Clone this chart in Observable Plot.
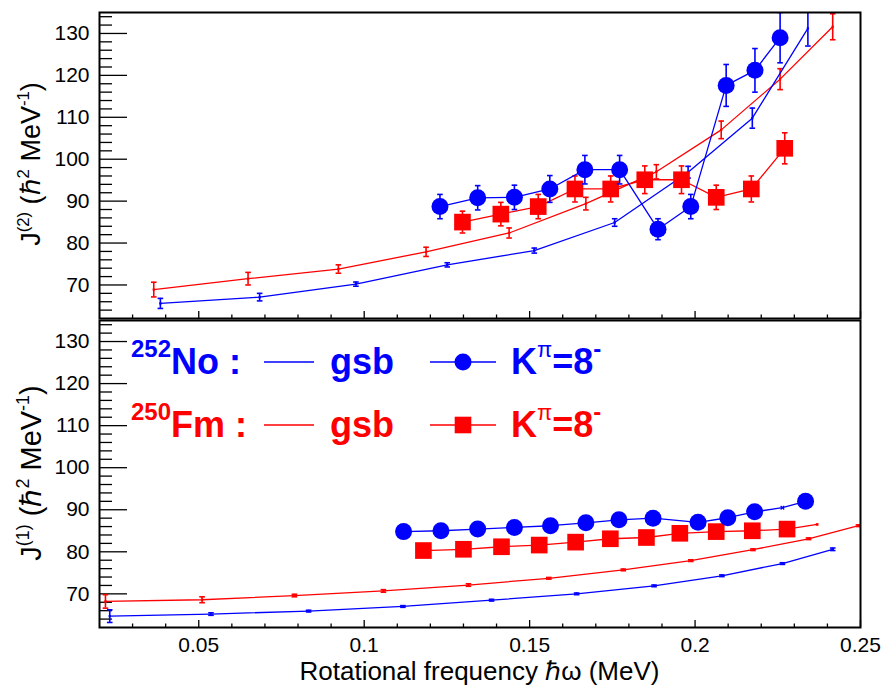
<!DOCTYPE html>
<html>
<head>
<meta charset="utf-8">
<script src="https://cdn.jsdelivr.net/npm/d3@7"></script>
<script src="https://cdn.jsdelivr.net/npm/@observablehq/plot@0.6"></script>
<style>
  html, body { margin: 0; padding: 0; background: #fff; }
  #wrap { position: relative; width: 886px; height: 690px; overflow: hidden; }
  #wrap > svg { position: absolute; left: 0; }
</style>
</head>
<body>
<div id="wrap"></div>
<script>
// ---------- data ----------
// top panel: J(2)
const noGsbJ2W   = [0.0384, 0.0684, 0.0975, 0.1251, 0.1514, 0.1757, 0.1979, 0.2173, 0.2341];
const noGsbJ2    = [65.6, 67.1, 70.2, 74.8, 78.2, 84.9, 96.9, 109.8, 131.2];
const noGsbJ2Err = [1.2, 0.9, 0.5, 0.5, 0.6, 0.9, 1.4, 2.4, 4.2];

const fmGsbJ2W   = [0.0364, 0.0649, 0.0922, 0.1187, 0.1438, 0.1670, 0.1883, 0.2079, 0.2257, 0.2416];
const fmGsbJ2    = [68.9, 71.5, 73.8, 77.9, 82.4, 89.4, 97.0, 107.0, 119.1, 131.6];
const fmGsbJ2Err = [1.75, 1.5, 1.0, 1.1, 1.2, 1.5, 1.7, 2.1, 2.5, 3.1];

const noK8J2W    = [0.1229, 0.1343, 0.1454, 0.1561, 0.1667, 0.1772, 0.1888, 0.1987, 0.2094, 0.2181, 0.2257];
const noK8J2     = [88.7, 90.8, 90.9, 92.9, 97.5, 97.5, 83.3, 88.7, 117.6, 121.2, 129.0];
const noK8J2Err  = [2.9, 2.9, 2.9, 3.2, 3.4, 3.4, 2.5, 2.9, 5.0, 5.2, 6.0];

const fmK8J2W    = [0.1297, 0.1413, 0.1526, 0.1637, 0.1745, 0.1848, 0.1959, 0.2064, 0.2170, 0.2271];
const fmK8J2     = [85.0, 86.9, 88.7, 92.9, 92.9, 95.1, 95.1, 90.9, 92.9, 102.6];
const fmK8J2Err  = [2.6, 2.8, 2.9, 3.1, 3.1, 3.3, 3.3, 2.9, 3.1, 3.7];

// bottom panel: J(1)
const noGsbJ1W   = [0.0231, 0.0537, 0.0832, 0.1117, 0.1385, 0.1642, 0.1876, 0.2081, 0.2264, 0.2416];
const noGsbJ1    = [64.7, 65.2, 65.9, 67.0, 68.5, 70.0, 71.9, 74.3, 77.2, 80.6];
const noGsbJ1Err = [1.5, 0.3, 0.2, 0.2, 0.2, 0.2, 0.2, 0.2, 0.2, 0.3];

const fmGsbJ1W   = [0.0218, 0.0510, 0.0789, 0.1058, 0.1315, 0.1558, 0.1783, 0.1987, 0.2175, 0.2343, 0.2494];
const fmGsbJ1    = [68.2, 68.6, 69.6, 70.7, 72.1, 73.7, 75.7, 77.9, 80.5, 83.1, 86.2];
const fmGsbJ1Err = [1.6, 0.7, 0.3, 0.3, 0.3, 0.2, 0.2, 0.2, 0.2, 0.2, 0.2];

const noK8J1W    = [0.1119, 0.1232, 0.1343, 0.1454, 0.1563, 0.1670, 0.1770, 0.1873, 0.2009, 0.2099, 0.2180, 0.2264, 0.2334];
const noK8J1     = [84.8, 85.0, 85.4, 85.8, 86.2, 86.9, 87.6, 88.0, 87.0, 88.1, 89.5, 90.5, 92.0];

const fmK8J1W    = [0.1179, 0.1300, 0.1415, 0.1529, 0.1639, 0.1744, 0.1853, 0.1954, 0.2064, 0.2173, 0.2278, 0.2369];
const fmK8J1     = [80.3, 80.6, 81.2, 81.6, 82.3, 83.1, 83.4, 84.4, 84.8, 85.0, 85.4, 86.5];

// axes
const xDomain   = [0.02, 0.25];
const yDomain   = [62, 135];
const xMajor    = [0.05, 0.1, 0.15, 0.2, 0.25];
const xMinor    = [0.03, 0.04, 0.06, 0.07, 0.08, 0.09, 0.11, 0.12, 0.13, 0.14, 0.16, 0.17, 0.18, 0.19, 0.21, 0.22, 0.23, 0.24];
const yMajor    = [70, 80, 90, 100, 110, 120, 130];
const yMinor    = [64, 66, 68, 72, 74, 76, 78, 82, 84, 86, 88, 92, 94, 96, 98, 102, 104, 106, 108, 112, 114, 116, 118, 122, 124, 126, 128, 132, 134];
const xTitle    = "Rotational frequency \u210F\u03C9 (MeV)";

// ---------- drawing ----------
const BLUE = "#0000ff", RED = "#ff0000";
const FONT = "'Liberation Sans', Arial, Helvetica, sans-serif";
const W = 886, ML = 99, MR = 26;
const frameW = W - ML - MR;

const rows = (w, v, e) => w.map((x, i) => ({w: x, v: v[i], e: e ? e[i] : 0, i}));
const capSym = {draw(ctx) { const h = 2.8; ctx.moveTo(-h, 0); ctx.lineTo(h, 0); }};

function errMarks(data, color) {
  return [
    Plot.ruleX(data, {x: "w", y1: d => d.v - d.e, y2: d => d.v + d.e, stroke: color, strokeWidth: 1.6, clip: true}),
    Plot.dot(data, {x: "w", y: d => d.v + d.e, symbol: capSym, stroke: color, fill: "none", strokeWidth: 1.6, clip: true}),
    Plot.dot(data, {x: "w", y: d => d.v - d.e, symbol: capSym, stroke: color, fill: "none", strokeWidth: 1.6, clip: true})
  ];
}
function gsbMarks(data, color) {
  return [
    Plot.line(data, {x: "w", y: "v", stroke: color, strokeWidth: 1.3, clip: true}),
    ...errMarks(data, color),
    Plot.dot(data, {x: "w", y: "v", symbol: "square", r: 1.3, fill: color, stroke: "none", clip: true})
  ];
}

function panel({height, marginTop, marginBottom, showX, series}) {
  const frameH = height - marginTop - marginBottom;
  return Plot.plot({
    width: W, height, marginLeft: ML, marginRight: MR, marginTop, marginBottom,
    x: {domain: xDomain, axis: null},
    y: {domain: yDomain, axis: null},
    style: {fontFamily: FONT, fontSize: "21px", color: "black", background: "transparent", overflow: "visible"},
    marks: [
      Plot.axisY(yMajor, {tickSize: 0, tickPadding: 10, fontSize: 21, label: null}),
      showX ? Plot.axisX(xMajor, {tickSize: 0, tickPadding: 10, fontSize: 21, label: null, tickFormat: d => String(d)}) : null,
      Plot.ruleY(yMajor, {insetRight: frameW - 28, stroke: "black", strokeWidth: 1.3}),
      Plot.ruleY(yMinor, {insetRight: frameW - 13, stroke: "black", strokeWidth: 1.3}),
      Plot.ruleX(xMajor, {insetTop: frameH - 7, stroke: "black", strokeWidth: 1.3}),
      Plot.ruleX(xMinor, {insetTop: frameH - 3.5, stroke: "black", strokeWidth: 1.3}),
      ...series,
      Plot.frame({stroke: "black", strokeWidth: 2})
    ]
  });
}

// top panel
const fmK8J2R = rows(fmK8J2W, fmK8J2, fmK8J2Err);
const noK8J2R = rows(noK8J2W, noK8J2, noK8J2Err);
const topPlot = panel({
  height: 320, marginTop: 12, marginBottom: 2, showX: false,
  series: [
    ...gsbMarks(rows(fmGsbJ2W, fmGsbJ2, fmGsbJ2Err), RED),
    ...gsbMarks(rows(noGsbJ2W, noGsbJ2, noGsbJ2Err), BLUE),
    Plot.line(fmK8J2R, {x: "w", y: "v", stroke: RED, strokeWidth: 1.3}),
    ...errMarks(fmK8J2R, RED),
    Plot.dot(fmK8J2R, {x: "w", y: "v", symbol: "square", r: 9.4, fill: RED, stroke: "none"}),
    Plot.line(noK8J2R, {x: "w", y: "v", stroke: BLUE, strokeWidth: 1.3}),
    ...errMarks(noK8J2R, BLUE),
    Plot.dot(noK8J2R, {x: "w", y: "v", r: 8.5, fill: BLUE, stroke: "none", clip: true})
  ]
});
topPlot.style.top = "0px";

// bottom panel
const fmK8J1R = rows(fmK8J1W, fmK8J1);
const noK8J1R = rows(noK8J1W, noK8J1);
const isLast = (d, arr) => d.i === arr.length - 1;
const bottomPlot = panel({
  height: 380, marginTop: 10, marginBottom: 63, showX: true,
  series: [
    ...gsbMarks(rows(fmGsbJ1W, fmGsbJ1, fmGsbJ1Err), RED),
    ...gsbMarks(rows(noGsbJ1W, noGsbJ1, noGsbJ1Err), BLUE),
    Plot.line(fmK8J1R, {x: "w", y: "v", stroke: RED, strokeWidth: 1.3}),
    Plot.dot(fmK8J1R.filter(d => !isLast(d, fmK8J1R)), {x: "w", y: "v", symbol: "square", r: 9.4, fill: RED, stroke: "none"}),
    Plot.dot(fmK8J1R.filter(d => isLast(d, fmK8J1R)), {x: "w", y: "v", symbol: "square", r: 1.5, fill: RED, stroke: "none"}),
    Plot.line(noK8J1R, {x: "w", y: "v", stroke: BLUE, strokeWidth: 1.3}),
    Plot.dot(noK8J1R.filter(d => d.i !== noK8J1R.length - 2), {x: "w", y: "v", r: 8.5, fill: BLUE, stroke: "none"}),
    Plot.dot(noK8J1R.filter(d => d.i === noK8J1R.length - 2), {x: "w", y: "v", symbol: "times", r: 1.8, stroke: BLUE, strokeWidth: 1.3})
  ]
});
bottomPlot.style.top = "310px";

const wrap = document.getElementById("wrap");
wrap.appendChild(topPlot);
wrap.appendChild(bottomPlot);

// ---------- overlay text: titles & legend ----------
const ov = d3.select(wrap).append("svg")
  .attr("width", W).attr("height", 690)
  .style("position", "absolute").style("top", "0px").style("left", "0px")
  .style("font-family", FONT);

// x title
ov.append("text").attr("x", ML + frameW / 2).attr("y", 680).attr("text-anchor", "middle")
  .attr("font-size", 26).text(xTitle);

// y titles
function yTitle(cx, cy, size, idx) {
  const t = ov.append("text").attr("transform", `translate(${cx},${cy}) rotate(-90)`)
    .attr("text-anchor", "middle").attr("font-size", size);
  const s = size * 0.62, up = size * 0.42;
  t.append("tspan").text("J");
  t.append("tspan").attr("font-size", s).attr("dy", -up).text(`(${idx})`);
  t.append("tspan").attr("dy", up).text(" (\u210F");
  t.append("tspan").attr("font-size", s).attr("dy", -up).text("2");
  t.append("tspan").attr("dy", up).text(" MeV");
  t.append("tspan").attr("font-size", s).attr("dy", -up).text("-1");
  t.append("tspan").attr("dy", up).text(")");
}
yTitle(40, 164, 27, 2);
yTitle(41, 473, 29, 1);

// legend
function legendRow(base, color, mass, elem, symbol) {
  const ly = base - 12;
  const t = ov.append("text").attr("x", 131).attr("y", base).attr("fill", color)
    .attr("font-weight", "bold").attr("font-size", 36);
  t.append("tspan").attr("font-size", 24).attr("dy", -17).text(mass);
  t.append("tspan").attr("dy", 17).text(elem + " :");
  ov.append("line").attr("x1", 264).attr("x2", 314).attr("y1", ly).attr("y2", ly)
    .attr("stroke", color).attr("stroke-width", 1.5);
  ov.append("text").attr("x", 330).attr("y", base).attr("fill", color)
    .attr("font-weight", "bold").attr("font-size", 36).text("gsb");
  ov.append("line").attr("x1", 430).attr("x2", 496).attr("y1", ly).attr("y2", ly)
    .attr("stroke", color).attr("stroke-width", 1.5);
  if (symbol === "circle") {
    ov.append("circle").attr("cx", 463).attr("cy", ly).attr("r", 8.5).attr("fill", color);
  } else {
    ov.append("rect").attr("x", 463 - 8.3).attr("y", ly - 8.3).attr("width", 16.6).attr("height", 16.6).attr("fill", color);
  }
  const k = ov.append("text").attr("x", 511).attr("y", base).attr("fill", color)
    .attr("font-weight", "bold").attr("font-size", 36);
  k.append("tspan").text("K");
  k.append("tspan").attr("font-size", 22).attr("font-weight", "normal").attr("dy", -17).text("\u03C0");
  k.append("tspan").attr("dy", 17).text("=8");
  k.append("tspan").attr("font-size", 24).attr("dy", -17).text("-");
}
legendRow(374, BLUE, "252", "No", "circle");
legendRow(437, RED, "250", "Fm", "square");
</script>
</body>
</html>
